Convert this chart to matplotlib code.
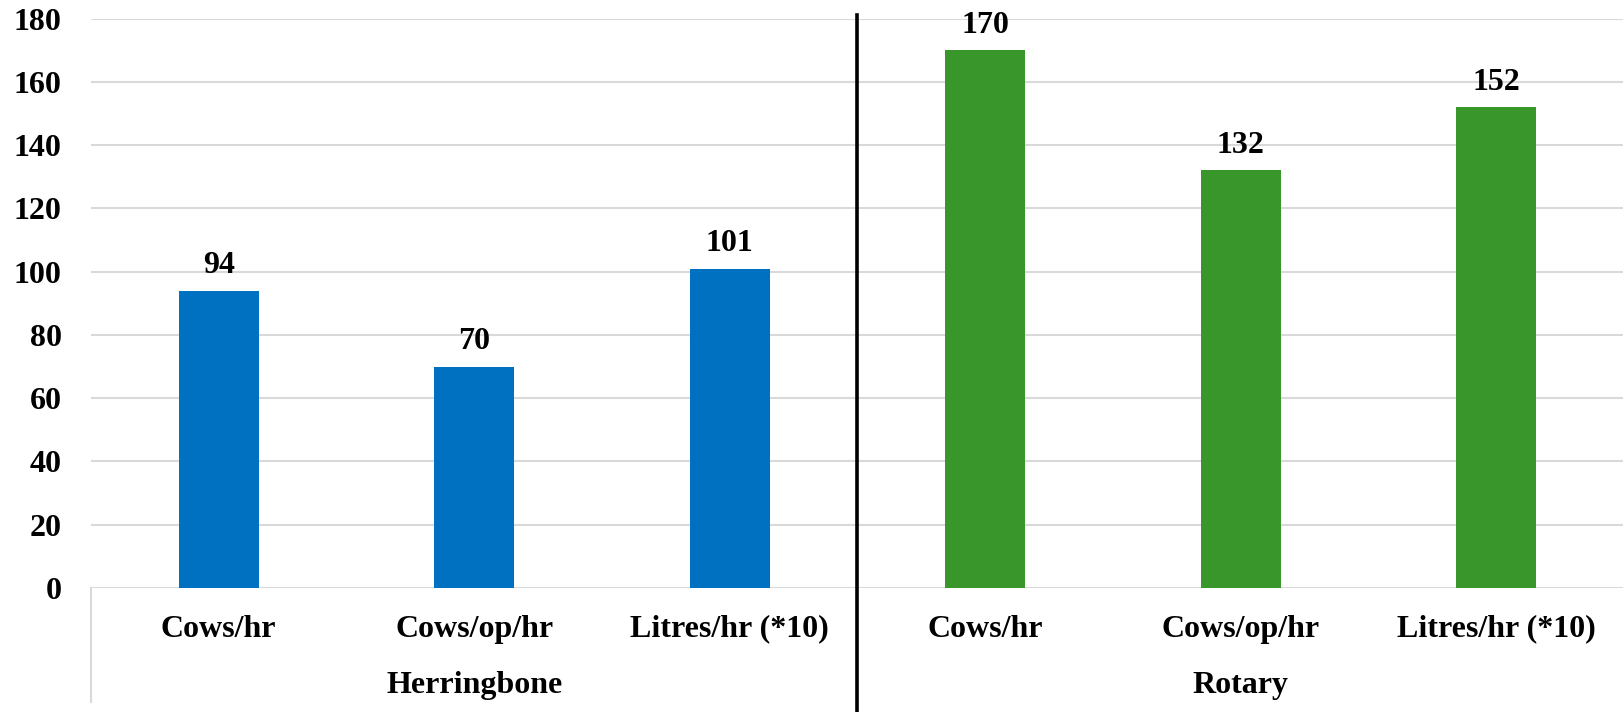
import matplotlib
matplotlib.use("Agg")
import matplotlib.pyplot as plt
from matplotlib.transforms import blended_transform_factory

# Milking parlour throughput by parlour type
categories = ["Cows/hr", "Cows/op/hr", "Litres/hr (*10)",
              "Cows/hr", "Cows/op/hr", "Litres/hr (*10)"]
values = [94, 70, 101, 170, 132, 152]
groups = ["Herringbone", "Rotary"]
group_sizes = [3, 3]
group_colors = ["#0070C0", "#38962A"]
yticks = [0, 20, 40, 60, 80, 100, 120, 140, 160, 180]

plt.rcParams["font.family"] = ["Liberation Serif", "DejaVu Serif"]
plt.rcParams["font.weight"] = "bold"
FS = 23

W, H, DPI = 1624, 712, 100
fig = plt.figure(figsize=(W / DPI, H / DPI), dpi=DPI)
left_px, right_px, top_px, bottom_px = 91, 1624, 18.6, 588
ax = fig.add_axes([left_px / W, 1 - bottom_px / H,
                   (right_px - left_px) / W, (bottom_px - top_px) / H])

colors = []
for c, n in zip(group_colors, group_sizes):
    colors += [c] * n
x = list(range(len(values)))
ax.bar(x, values, width=0.315, color=colors, zorder=3)

for xi, v in zip(x, values):
    ax.annotate(f"{v}", (xi, v), xytext=(0, 12.6), textcoords="offset points",
                ha="center", va="baseline", fontsize=FS, fontweight="bold")

ax.set_xlim(-0.5, len(values) - 0.5)
ax.set_ylim(0, 180)
ax.set_yticks(yticks)
ax.set_yticklabels([str(t) for t in yticks], fontsize=FS, fontweight="bold")
ax.tick_params(axis="y", length=0, pad=21)
ax.set_xticks([])
ax.yaxis.grid(True, color="#D9D9D9", linewidth=1.5, zorder=0)
for s in ["top", "right", "left", "bottom"]:
    ax.spines[s].set_visible(False)

# category and group labels below the axis
axis_h = bottom_px - top_px
tr = blended_transform_factory(ax.transData, ax.transAxes)
cat_y = -(636.7 - bottom_px) / axis_h
grp_y = -(693.3 - bottom_px) / axis_h
for xi, lab in zip(x, categories):
    ax.text(xi, cat_y, lab, transform=tr, ha="center", va="baseline",
            fontsize=FS, fontweight="bold")
start = 0
for g, n in zip(groups, group_sizes):
    ax.text(start + (n - 1) / 2, grp_y, g, transform=tr, ha="center",
            va="baseline", fontsize=FS, fontweight="bold")
    start += n

# light separator on the left of the category block
bot_y = -(702 - bottom_px) / axis_h
ax.plot([0, 0], [0, bot_y], transform=ax.transAxes, color="#D9D9D9",
        linewidth=1.5, clip_on=False)

# heavy divider between parlour types
fig_bottom = -(H - bottom_px) / axis_h
top_y = (bottom_px - 14.5) / axis_h
ax.plot([0.5, 0.5], [fig_bottom, top_y], transform=ax.transAxes,
        color="black", linewidth=2.6, clip_on=False, zorder=5)

fig.savefig("out.png", dpi=DPI)
